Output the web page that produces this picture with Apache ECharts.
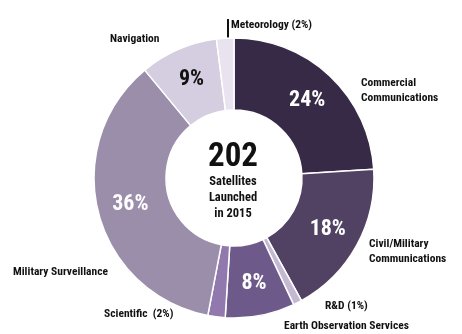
<!DOCTYPE html>
<html><head><meta charset="utf-8">
<script src="https://cdn.jsdelivr.net/npm/echarts@6/dist/echarts.min.js"></script>
<style>html,body{margin:0;padding:0;background:#fff}#c{width:462px;height:334px}</style>
</head><body><div id="c"></div>
<script>
var categories = ['Commercial\nCommunications','Civil/Military\nCommunications','R&D (1%)','Earth Observation Services','Scientific  (2%)','Military Surveillance','Navigation','Meteorology (2%)'];
var values = [24, 18, 1, 8, 2, 36, 9, 2];
var colors = ['#372a47','#514263','#c4b8d3','#6e5a8a','#9178ad','#9b8eab','#d5cde0','#e8e3ee'];
var showInner = [true, true, false, true, false, true, true, false];
var innerColor = ['#fff','#fff','#fff','#fff','#fff','#fff','#111','#111'];
var FONT = "'Liberation Sans Narrow','Arial Narrow','Roboto Condensed',sans-serif";

var chart = echarts.init(document.getElementById('c'), null, {renderer:'canvas'});
var data = values.map(function(v,i){
  return {name: categories[i], value: v,
    itemStyle:{color: colors[i]},
    label:{show: showInner[i], color: innerColor[i]}};
});
var outLabels = [
  {i:0, x:361, y:76},
  {i:1, x:369, y:237},
  {i:2, x:325, y:299},
  {i:3, x:284, y:319},
  {i:4, x:104, y:307},
  {i:5, x:13, y:265},
  {i:6, x:110, y:32},
  {i:7, x:231, y:18}
];
var graphics = outLabels.map(function(o){
  return {type:'text', left:o.x, top:o.y, style:{text:categories[o.i], font:'bold 11.5px '+FONT, fill:'#111', lineHeight:15}};
});
graphics.push({type:'line', shape:{x1:228, y1:19, x2:228, y2:48}, style:{stroke:'#111', lineWidth:2}});
graphics.push({type:'text', x:233, y:158, style:{text:'202', font:'bold 33px '+FONT, fill:'#111', align:'center', textAlign:'center', verticalAlign:'middle', textVerticalAlign:'middle'}});
graphics.push({type:'text', x:233, y:198, style:{text:'Satellites\nLaunched\nin 2015', font:'bold 12.5px '+FONT, fill:'#111', align:'center', textAlign:'center', verticalAlign:'middle', textVerticalAlign:'middle', lineHeight:16}});

chart.setOption({
  animation:false,
  series:[{
    type:'pie', center:[234,178], radius:[68,140], startAngle:90, clockwise:true,
    avoidLabelOverlap:false,
    itemStyle:{borderColor:'#fff', borderWidth:1.5},
    label:{position:'inside', formatter:'{c}%', fontFamily:FONT, fontWeight:'bold', fontSize:22},
    labelLine:{show:false},
    data:data
  }],
  graphic:graphics
});
</script></body></html>
